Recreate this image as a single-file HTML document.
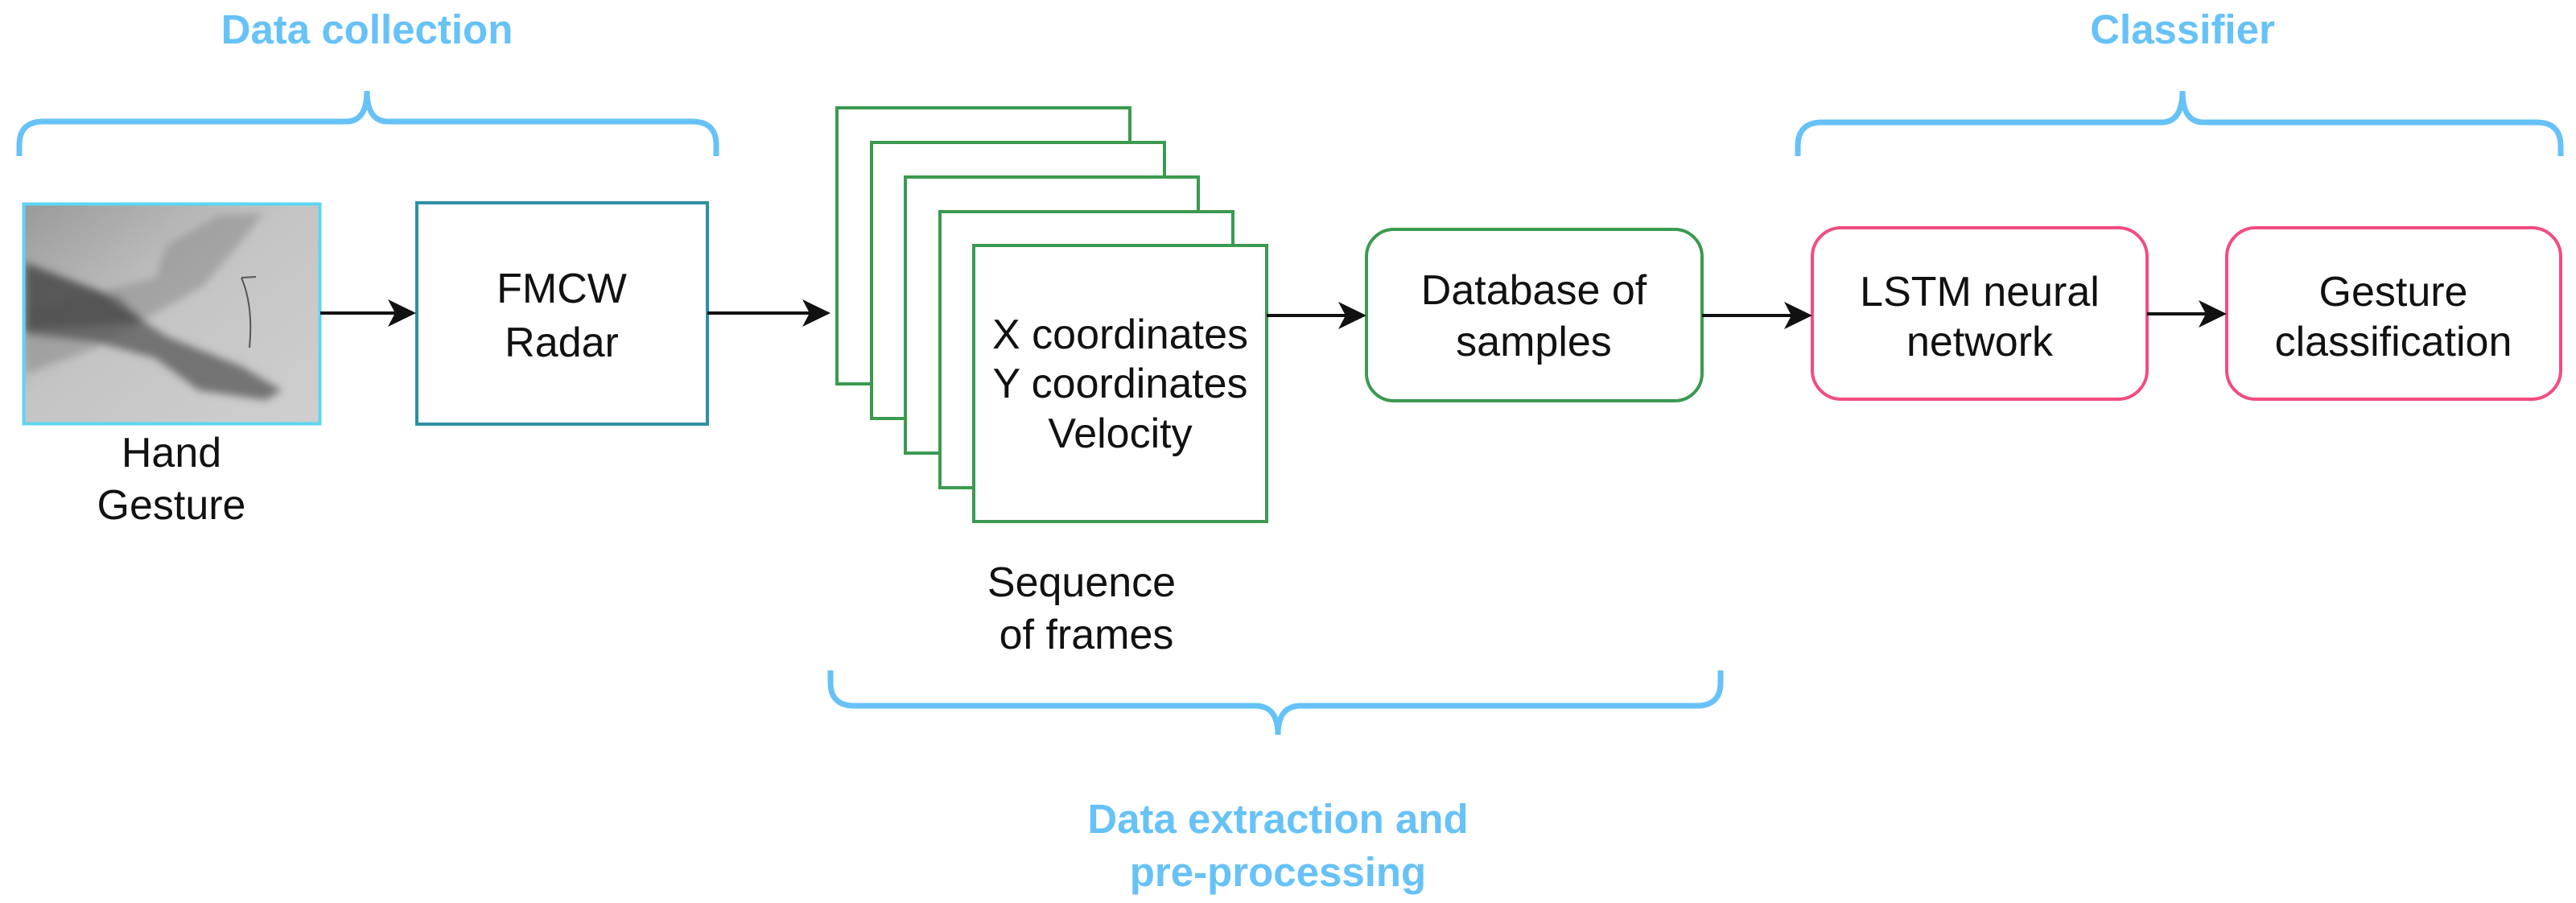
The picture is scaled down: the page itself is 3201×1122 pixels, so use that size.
<!DOCTYPE html>
<html><head><meta charset="utf-8"><style>
html,body{margin:0;padding:0;background:#fff}
svg{display:block}
text{font-family:"Liberation Sans",Arial,sans-serif}
</style></head><body>
<svg width="3201" height="1122" viewBox="0 0 3201 1122" xmlns="http://www.w3.org/2000/svg">
<defs>
<linearGradient id="bg" x1="0" y1="0" x2="1" y2="1">
<stop offset="0" stop-color="#9a9a9a"/><stop offset="0.45" stop-color="#c4c4c4"/><stop offset="1" stop-color="#cfcfcf"/>
</linearGradient>
<filter id="bl"><feGaussianBlur stdDeviation="5"/></filter>
<clipPath id="ic"><rect x="31" y="255" width="365" height="270"/></clipPath>
</defs>

<g fill="#66c2f7" font-weight="bold" font-size="51" text-anchor="middle">
<text x="456" y="54">Data collection</text>
<text x="2712" y="54">Classifier</text>
<text x="1588" y="1035">Data extraction and</text>
<text x="1588" y="1101">pre-processing</text>
</g>

<g fill="none" stroke="#66c2f7" stroke-width="7" stroke-linecap="butt">
<path d="M24 194 V180 Q24 151 54 151 H430 Q456 151 456 113 Q456 151 482 151 H860 Q890 151 890 180 V194"/>
<path d="M2234 194 V182 Q2234 152 2264 152 H2686 Q2712 152 2712 113 Q2712 152 2738 152 H3152 Q3182 152 3182 182 V194"/>
<path d="M1032 833 V848 Q1032 877 1062 877 H1560 Q1588 877 1588 913 Q1588 877 1616 877 H2108 Q2138 877 2138 848 V833"/>
</g>

<g clip-path="url(#ic)">
<rect x="31" y="255" width="365" height="270" fill="url(#bg)"/>
<g filter="url(#bl)">
<path d="M31 385 L193 345 L207 305 L270 268 L327 265 L300 300 L253 355 L120 432 L31 465 Z" fill="#8f8f8f" opacity="0.6"/>
<path d="M31 325 L120 360 L207 418 L300 455 L350 485 L330 497 L247 485 L193 445 L120 425 L31 415 Z" fill="#555" opacity="0.75"/>
<path d="M31 330 L150 370 L180 400 L31 410 Z" fill="#444" opacity="0.5"/>
</g>
<path d="M310 432 Q315 380 300 345" fill="none" stroke="#555" stroke-width="2"/>
<path d="M300 345 L318 344" fill="none" stroke="#555" stroke-width="2"/>
</g>
<rect x="29.5" y="253.5" width="368" height="273" fill="none" stroke="#5dd6f2" stroke-width="4"/>

<rect x="518" y="252" width="361" height="275" fill="#fff" stroke="#2f8fa3" stroke-width="4"/>

<g fill="#fff" stroke="#3b9a50" stroke-width="4">
<rect x="1040" y="134" width="364" height="343"/>
<rect x="1083" y="177" width="364" height="343"/>
<rect x="1125" y="220" width="364" height="343"/>
<rect x="1168" y="263" width="364" height="343"/>
<rect x="1210" y="305" width="364" height="343"/>
</g>

<rect x="1698" y="285" width="417" height="213" rx="34" fill="#fff" stroke="#3b9a50" stroke-width="4"/>
<rect x="2252" y="283" width="416" height="213" rx="36" fill="#fff" stroke="#f24c80" stroke-width="4"/>
<rect x="2767" y="283" width="415" height="213" rx="36" fill="#fff" stroke="#f24c80" stroke-width="4"/>

<g stroke="#111" stroke-width="4">
<line x1="398" y1="389" x2="500" y2="389"/>
<line x1="879" y1="389" x2="1015" y2="389"/>
<line x1="1574" y1="392" x2="1680" y2="392"/>
<line x1="2115" y1="392" x2="2235" y2="392"/>
<line x1="2668" y1="390" x2="2750" y2="390"/>
</g>
<g fill="#111">
<path d="M517 389 L482 372 L491 389 L482 406 Z"/>
<path d="M1032 389 L997 372 L1006 389 L997 406 Z"/>
<path d="M1698 392 L1663 375 L1672 392 L1663 409 Z"/>
<path d="M2252 392 L2217 375 L2226 392 L2217 409 Z"/>
<path d="M2767 390 L2732 373 L2741 390 L2732 407 Z"/>
</g>

<g fill="#111" font-size="52" text-anchor="middle">
<text x="698" y="376">FMCW</text>
<text x="698" y="443">Radar</text>
<text x="213" y="580">Hand</text>
<text x="213" y="645">Gesture</text>
<text x="1392" y="433">X coordinates</text>
<text x="1392" y="494">Y coordinates</text>
<text x="1392" y="556">Velocity</text>
<text x="1906" y="378">Database of</text>
<text x="1906" y="442">samples</text>
<text x="1344" y="741">Sequence</text>
<text x="1350" y="806">of frames</text>
<text x="2460" y="380">LSTM neural</text>
<text x="2460" y="442">network</text>
<text x="2974" y="380">Gesture</text>
<text x="2974" y="442">classification</text>
</g>
</svg>
</body></html>
